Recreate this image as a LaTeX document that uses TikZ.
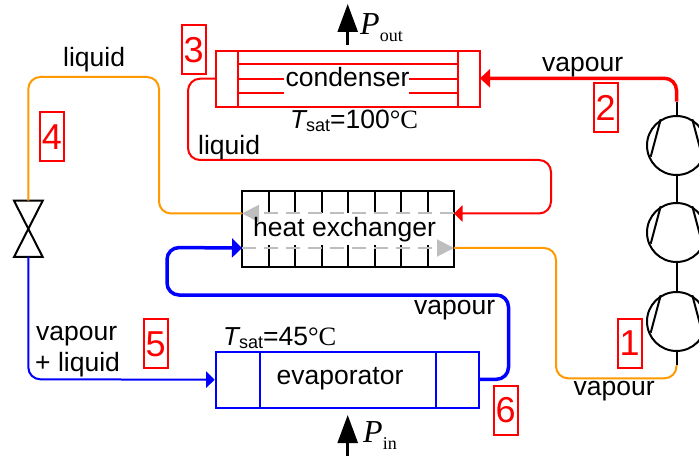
\documentclass[tikz,border=0pt]{standalone}
\usepackage{fontspec}
\setmainfont{Liberation Sans}
\newfontfamily\timesf{Liberation Serif}
\usetikzlibrary{arrows.meta}
\definecolor{orng}{RGB}{255,153,0}
\definecolor{gry}{RGB}{190,190,190}
\tikzset{
  lab/.style={anchor=base west,inner sep=0pt,font=\fontsize{26.5}{26.5}\selectfont,text=black},
  numbox/.style={draw=red,line width=2pt,text=red,minimum width=24pt,minimum height=49pt,inner sep=0pt,font=\fontsize{36}{36}\selectfont},
  unit/.style={line width=2pt,inner sep=0pt},
  pipe/.style={line width=2pt,rounded corners=12pt},
  thick pipe/.style={line width=3.5pt,rounded corners=12pt},
  tipR/.style={-{Triangle[length=10pt,width=18pt]}},
  tipB/.style={-{Triangle[length=10pt,width=19pt]}},
  tipS/.style={-{Triangle[length=8.5pt,width=16pt]}},
  greydash/.style={draw=gry,line width=2pt,dash pattern=on 14pt off 8pt,-{Triangle[length=17pt,width=17pt]}},
  powerarrow/.style={line width=2.5pt,-{Triangle[length=28pt,width=20pt]}},
  comp/.style={circle,draw=black,line width=2pt,minimum size=59pt,inner sep=0pt},
}
\newcommand{\Tsat}{{\fontsize{26}{26}\selectfont\itshape T}{\fontsize{18}{18}\selectfont\raisebox{-3pt}{sat}}}
\newcommand{\Pw}[1]{{\timesf\fontsize{32}{32}\selectfont\itshape P}{\timesf\fontsize{18}{18}\selectfont\raisebox{-7pt}{#1}}}
\begin{document}
\begin{tikzpicture}[x=1pt,y=-1pt]
\useasboundingbox (0,0) rectangle (699,457);
\begin{scope}
\clip (0,0) rectangle (699,457);
% compressors
\node[comp] (c1) at (676.5,145.5) {};
\node[comp] (c2) at (676.5,232.5) {};
\node[comp] (c3) at (676.5,321.5) {};
\foreach \c in {c1,c2,c3}{
  \draw[black,line width=2pt] ([shift={(-15.8,-26.2)}]\c.center) -- ([shift={(-25.8,11.2)}]\c.center);
  \draw[black,line width=2pt] ([shift={(15.8,-26.2)}]\c.center) -- ([shift={(25.8,11.2)}]\c.center);
}
\draw[black,line width=2pt] (c1) -- (c2);
\draw[black,line width=2pt] (c2) -- (c3);
\coordinate (c1out) at (676.5,101.7);
\coordinate (c3in) at (676.5,365);
\draw[black,line width=2pt] (c1) -- (c1out);
\draw[black,line width=2pt] (c3) -- (c3in);
\end{scope}
% condenser
\node[unit,draw=red,minimum width=264pt,minimum height=56pt] (cond) at (347.8,78.7) {};
\coordinate (cL) at (238,50.7); \coordinate (cLb) at (238,106.7);
\coordinate (cR) at (457.7,50.7); \coordinate (cRb) at (457.7,106.7);
\draw[red,line width=2pt] (cL) -- (cLb);
\draw[red,line width=2pt] (cR) -- (cRb);
\foreach \y in {64.3,78.7,93}{\draw[red,line width=2pt] (238,\y) -- (457.7,\y);}
\node[fill=white,inner sep=0pt,minimum width=125pt,minimum height=30pt] (condtext) at (346.5,85) {};
\node[lab] (condlabel) at (285.5,87) {condenser};
% evaporator
\node[unit,draw=blue,minimum width=263.6pt,minimum height=56pt] (evap) at (347.5,379.7) {};
\coordinate (eL) at (260,351.7); \coordinate (eLb) at (260,407.7);
\coordinate (eR) at (435.7,351.7); \coordinate (eRb) at (435.7,407.7);
\draw[blue,line width=2pt] (eL) -- (eLb);
\draw[blue,line width=2pt] (eR) -- (eRb);
\node[lab] (evaplabel) at (276.5,384.3) {evaporator};
% heat exchanger
\node[unit,draw=black,minimum width=212pt,minimum height=75.7pt] (hx) at (348,229.2) {};
\foreach \i in {1,...,7}{
  \draw[black,line width=2pt] (242+26.5*\i,191.3) -- (242+26.5*\i,213.5);
  \draw[black,line width=2pt] (242+26.5*\i,245) -- (242+26.5*\i,267);
}
\coordinate (hxE1) at (454,213.5);
\coordinate (hxW1) at (242,213.5);
\coordinate (hxW2) at (242,248);
\coordinate (hxE2) at (454,248);
\draw[greydash] (hxE1) -- (hxW1);
\draw[greydash] (hxW2) -- (hxE2);
\node[lab] (hxlabel) at (253,236.7) {heat exchanger};
% valve
\coordinate (vTL) at (14,200.7); \coordinate (vTR) at (42.7,200.7);
\coordinate (vBL) at (14,257); \coordinate (vBR) at (42.7,257);
\draw[black,line width=2pt,line join=miter] (vTL) -- (vTR) -- (vBL) -- (vBR) -- cycle;
\coordinate (vT) at (28.3,200.7);
\coordinate (vB) at (28.3,257);
% pipes
\draw[pipe,draw=orng] (vT) -- (28.3,77) -- (159,77) -- (159,213.5) -- (hxW1);
\draw[pipe,draw=blue,tipS] (vB) -- (28.3,379.3) -- (evap.west);
\draw[thick pipe,draw=blue,tipB] (479.3,379.3) -- (508.5,379.3) -- (508.5,295) -- (167,295) -- (167,247.5) -- (hxW2);
\draw[thick pipe,draw=red,tipR] (c1out) -- (676.5,78.3) -- (480,78.3);
\draw[pipe,draw=red,tipS] (cond.west) -- (188,78.7) -- (188,160) -- (551,160) -- (551,213.5) -- (hxE1);
\draw[pipe,draw=orng] (hxE2) -- (556,248) -- (556,378.3) -- (676.5,378.3) -- (c3in);
% power arrows
\coordinate (pOa) at (347.7,45); \coordinate (pOb) at (347.7,4);
\coordinate (pIa) at (347.7,456); \coordinate (pIb) at (347.7,415);
\draw[black,powerarrow] (pOa) -- (pOb);
\draw[black,powerarrow] (pIa) -- (pIb);
\node[anchor=base west,inner sep=0pt] (pout) at (360,35) {\Pw{out}};
\node[anchor=base west,inner sep=0pt] (pin) at (363,442) {\Pw{in}};
% labels
\node[lab] (l1) at (63,67) {liquid};
\node[lab] (l2) at (198,155) {liquid};
\node[lab] (v1) at (542,72) {vapour};
\node[lab] (v2) at (573.5,395) {vapour};
\node[lab] (v3) at (414,314) {vapour};
\node[lab] (v4) at (36,340) {vapour};
\node[lab] (v5) at (35,371) {+ liquid};
\node[lab] (t1) at (290,128.3) {\Tsat=100{\timesf °C}};
\node[lab] (t2) at (223,345) {\Tsat=45{\timesf °C}};
% number boxes
\node[numbox] (n1) at (629.7,343.5) {1};
\node[numbox] (n2) at (605.7,107.7) {2};
\node[numbox] (n3) at (193.7,50) {3};
\node[numbox] (n4) at (52,137) {4};
\node[numbox] (n5) at (155.7,343.8) {5};
\node[numbox] (n6) at (505.7,410.2) {6};
\end{tikzpicture}
\end{document}
